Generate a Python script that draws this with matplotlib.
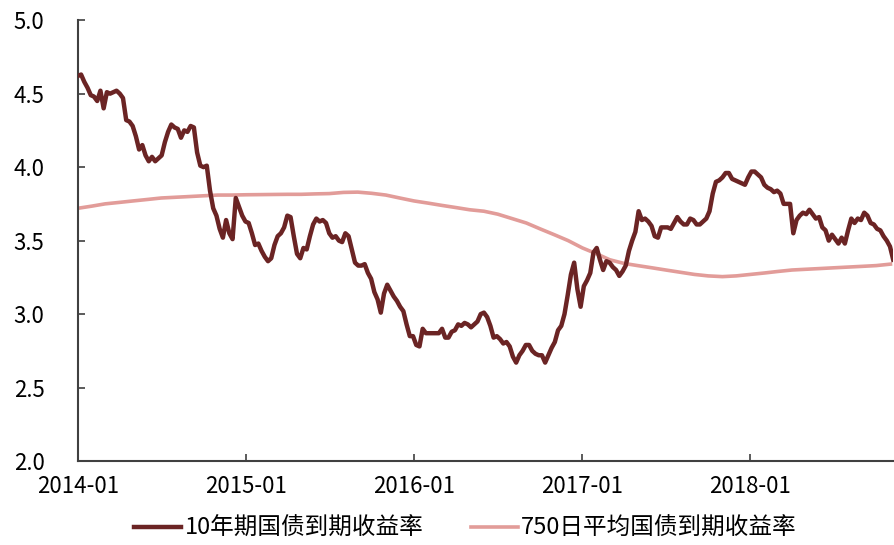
import pandas as pd
import matplotlib.pyplot as plt
import matplotlib.dates as mdates

plt.rcParams['font.family'] = ['Noto Sans CJK SC', 'DejaVu Sans']

# 10年期国债到期收益率, weekly readings starting 2014-01-01
yield_10y = [
    4.62, 4.63, 4.58, 4.54, 4.49, 4.48, 4.45, 4.52, 4.40, 4.51,
    4.50, 4.51, 4.52, 4.50, 4.47, 4.32, 4.31, 4.28, 4.21, 4.12,
    4.15, 4.08, 4.04, 4.07, 4.04, 4.06, 4.08, 4.17, 4.24, 4.29,
    4.27, 4.26, 4.20, 4.25, 4.24, 4.28, 4.27, 4.10, 4.01, 4.00,
    4.01, 3.84, 3.72, 3.67, 3.58, 3.52, 3.64, 3.55, 3.51, 3.79,
    3.73, 3.67, 3.63, 3.62, 3.55, 3.47, 3.48, 3.43, 3.39, 3.36,
    3.38, 3.47, 3.53, 3.55, 3.59, 3.67, 3.66, 3.53, 3.41, 3.38,
    3.45, 3.44, 3.53, 3.61, 3.65, 3.63, 3.64, 3.62, 3.55, 3.52,
    3.53, 3.50, 3.49, 3.55, 3.53, 3.44, 3.35, 3.33, 3.33, 3.34,
    3.28, 3.24, 3.15, 3.10, 3.01, 3.14, 3.20, 3.16, 3.12, 3.09,
    3.05, 3.02, 2.93, 2.85, 2.85, 2.79, 2.78, 2.90, 2.87, 2.87,
    2.87, 2.87, 2.87, 2.90, 2.84, 2.84, 2.88, 2.89, 2.93, 2.92,
    2.94, 2.93, 2.91, 2.93, 2.95, 3.00, 3.01, 2.98, 2.92, 2.84,
    2.85, 2.83, 2.80, 2.81, 2.78, 2.71, 2.67, 2.72, 2.75, 2.79,
    2.79, 2.75, 2.73, 2.72, 2.72, 2.67, 2.72, 2.77, 2.81, 2.89,
    2.92, 3.00, 3.13, 3.27, 3.35, 3.17, 3.05, 3.19, 3.23, 3.28,
    3.42, 3.45, 3.37, 3.30, 3.36, 3.35, 3.32, 3.30, 3.26, 3.29,
    3.33, 3.43, 3.50, 3.56, 3.70, 3.64, 3.65, 3.63, 3.60, 3.53,
    3.52, 3.59, 3.59, 3.59, 3.58, 3.62, 3.66, 3.63, 3.61, 3.61,
    3.65, 3.64, 3.61, 3.61, 3.63, 3.65, 3.70, 3.82, 3.90, 3.91,
    3.93, 3.96, 3.96, 3.92, 3.91, 3.90, 3.89, 3.88, 3.93, 3.97,
    3.97, 3.95, 3.93, 3.88, 3.86, 3.85, 3.83, 3.84, 3.82, 3.75,
    3.75, 3.75, 3.55, 3.64, 3.67, 3.69, 3.68, 3.71, 3.68, 3.65,
    3.66, 3.59, 3.57, 3.50, 3.54, 3.51, 3.48, 3.52, 3.48, 3.57,
    3.65, 3.62, 3.65, 3.64, 3.69, 3.67, 3.62, 3.61, 3.58, 3.57,
    3.53, 3.50, 3.46, 3.37,
]

# 750日平均国债到期收益率, monthly readings starting 2014-01
avg_750 = [
    3.72, 3.735, 3.75, 3.76, 3.77, 3.78, 3.79, 3.795, 3.80, 3.805,
    3.81, 3.81, 3.812, 3.813, 3.814, 3.815, 3.815, 3.818, 3.82, 3.828,
    3.83, 3.822, 3.81, 3.79, 3.77, 3.755, 3.74, 3.725, 3.71, 3.70,
    3.68, 3.65, 3.62, 3.58, 3.54, 3.50, 3.45, 3.41, 3.37, 3.345,
    3.33, 3.315, 3.30, 3.285, 3.27, 3.26, 3.255, 3.26, 3.27, 3.28,
    3.29, 3.30, 3.305, 3.31, 3.315, 3.32, 3.325, 3.33, 3.34,
]

labels = ['10年期国债到期收益率', '750日平均国债到期收益率']
year_ticks = ['2014-01', '2015-01', '2016-01', '2017-01', '2018-01']

dates_10y = pd.date_range('2014-01-01', periods=len(yield_10y), freq='7D')
dates_avg = pd.date_range('2014-01-01', periods=len(avg_750), freq='MS')

fig = plt.figure(figsize=(8.95, 5.45), dpi=100)
ax = fig.add_axes([0.087, 0.154, 0.911, 0.809])

ax.plot(dates_10y, yield_10y, color='#6B2424', lw=3.2, label=labels[0], zorder=3)
ax.plot(dates_avg, avg_750, color='#E29C99', lw=2.6, label=labels[1], zorder=2)

ax.set_ylim(2.0, 5.0)
ax.set_yticks([2.0, 2.5, 3.0, 3.5, 4.0, 4.5, 5.0])
ax.set_xlim(pd.Timestamp('2014-01-01'), dates_10y[-1])
ax.set_xticks(pd.to_datetime(year_ticks))
ax.xaxis.set_major_formatter(mdates.DateFormatter('%Y-%m'))

for s in ['top', 'right']:
    ax.spines[s].set_visible(False)
for s in ['left', 'bottom']:
    ax.spines[s].set_color('#404040')
    ax.spines[s].set_linewidth(1.5)

ax.tick_params(axis='y', direction='in', length=5, width=1.2, color='#404040',
               labelsize=16, pad=24)
ax.tick_params(axis='x', direction='in', length=5, width=1.2, color='#404040',
               labelsize=16, pad=10)

fig.legend(loc='center', bbox_to_anchor=(0.52, 0.03), ncol=2, frameon=False,
           fontsize=17, handlelength=2.0, handletextpad=0.15, columnspacing=2.0)

plt.savefig('out.png', dpi=100)
